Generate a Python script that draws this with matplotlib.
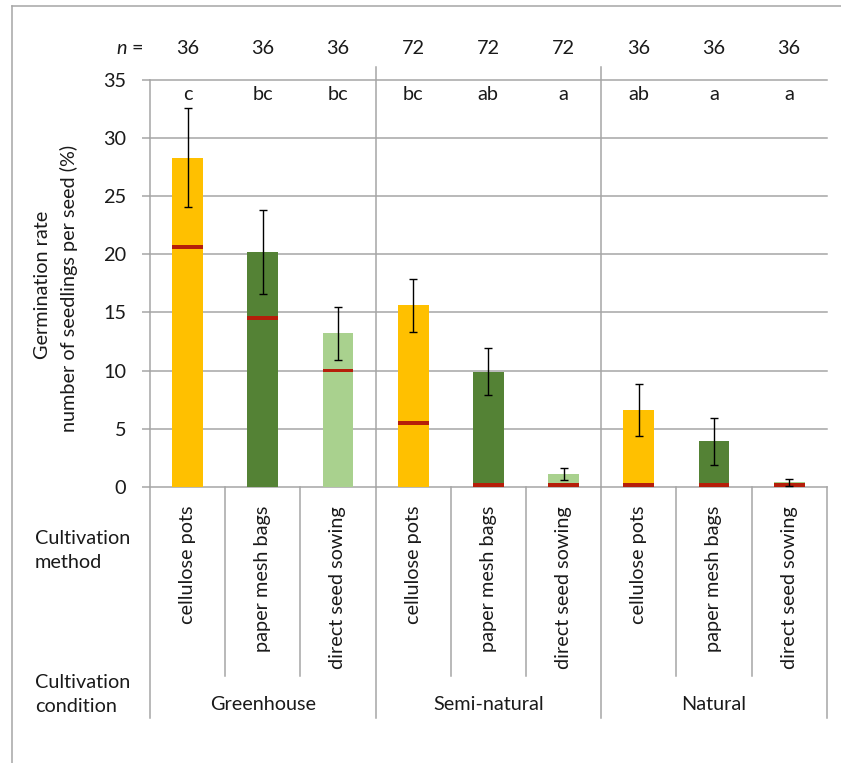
import matplotlib
matplotlib.use("Agg")
import matplotlib.pyplot as plt
from matplotlib.lines import Line2D
import matplotlib.transforms as mtransforms

plt.rcParams['font.family'] = ['Lato', 'DejaVu Sans']

# ---- data ----
conditions = ["Greenhouse", "Semi-natural", "Natural"]
methods = ["cellulose pots", "paper mesh bags", "direct seed sowing"]
n_values = [36, 36, 36, 72, 72, 72, 36, 36, 36]
letters = ["c", "bc", "bc", "bc", "ab", "a", "ab", "a", "a"]
means = [28.3, 20.2, 13.2, 15.6, 9.9, 1.1, 6.6, 3.9, 0.4]
errors = [4.25, 3.6, 2.3, 2.25, 2.0, 0.5, 2.2, 2.0, 0.3]
medians = [20.6, 14.5, 10.0, 5.5, 0.0, 0.0, 0.0, 0.0, 0.0]
method_colors = ["#FFC000", "#548235", "#A9D18E"]
median_color = "#B51E0A"
y_ticks = [0, 5, 10, 15, 20, 25, 30, 35]

W, H = 841, 763
GRID = "#A6A6A6"
TXT = "#1a1a1a"
FS = 14.3

fig = plt.figure(figsize=(W / 100, H / 100), dpi=100)


def fx(px):
    return px / W


def fy(py):
    return 1 - py / H


ax = fig.add_axes([fx(150), fy(486.7), (826.7 - 150) / W, (486.7 - 80) / H])
ncat = len(means)
xs = [i + 0.5 for i in range(ncat)]
colors = [method_colors[i % 3] for i in range(ncat)]
bw = 0.41

ax.bar(xs, means, width=bw, color=colors, zorder=2)
# median marks
med_h = 0.32
ax.bar(xs, [med_h] * ncat, bottom=[max(m - med_h / 2, 0) for m in medians],
       width=bw, color=median_color, zorder=3)
ax.errorbar(xs, means, yerr=errors, fmt='none', ecolor='black', elinewidth=1.0,
            capsize=2.7, capthick=1.0, zorder=4)

ax.set_xlim(0, ncat)
ax.set_ylim(0, 35)
ax.set_yticks(y_ticks)
ax.set_xticks([])
for s in ax.spines.values():
    s.set_visible(False)
ax.yaxis.grid(True, color=GRID, lw=1.1)
for gl in ax.get_ygridlines():
    gl.set_clip_on(False)
ax.set_axisbelow(True)
ax.tick_params(axis='y', length=5.8, width=1.1, color=GRID, pad=11.5,
               labelsize=FS, labelcolor=TXT)

bt = mtransforms.blended_transform_factory(ax.transData, fig.transFigure)


def vline(x, y0, y1):
    fig.add_artist(Line2D([x, x], [fy(y0), fy(y1)], transform=bt,
                          color=GRID, lw=1.1, zorder=1))


# left axis line running down through the table
vline(0, 80, 718)
# group separators inside plot
for g in (3, 6):
    vline(g, 67, 487)
# table separators below the axis
for i in range(1, ncat):
    if i % 3 == 0:
        vline(i, 487, 718)
    else:
        vline(i, 487, 676)
vline(ncat, 487, 718)

# outer frame
fig.add_artist(Line2D([fx(11.7), fx(11.7)], [fy(5.7), 0], transform=fig.transFigure,
                      color=GRID, lw=1.1))
fig.add_artist(Line2D([fx(11.7), 1], [fy(5.7), fy(5.7)], transform=fig.transFigure,
                      color=GRID, lw=1.1))

# n row and significance letters
fig.text(fx(143), fy(48), "=", ha='right', va='center', fontsize=FS, color=TXT)
fig.text(fx(127), fy(48), "n", ha='right', va='center', fontsize=FS, color=TXT,
         fontstyle='italic')
for x, n, l in zip(xs, n_values, letters):
    ax.text(x, fy(48), str(n), transform=bt, ha='center', va='center', fontsize=FS,
            color=TXT)
    ax.text(x, fy(94), l, transform=bt, ha='center', va='center', fontsize=FS, color=TXT)

# method labels
for x, i in zip(xs, range(ncat)):
    ax.text(x, fy(506), methods[i % 3], transform=bt, rotation=90, ha='center', va='top',
            fontsize=FS, color=TXT)

# condition labels
for g, name in enumerate(conditions):
    ax.text(3 * g + 1.5, fy(705), name, transform=bt, ha='center', va='center',
            fontsize=FS, color=TXT)

fig.text(fx(35), fy(538), "Cultivation", ha='left', va='center', fontsize=FS, color=TXT)
fig.text(fx(35), fy(563), "method", ha='left', va='center', fontsize=FS, color=TXT)
fig.text(fx(35), fy(682), "Cultivation", ha='left', va='center', fontsize=FS, color=TXT)
fig.text(fx(35), fy(707), "condition", ha='left', va='center', fontsize=FS, color=TXT)

# y-axis title
fig.text(fx(43), fy(285), "Germination rate", rotation=90, ha='center', va='center',
         fontsize=FS, color=TXT)
fig.text(fx(69), fy(288), "number of seedlings per seed (%)", rotation=90, ha='center',
         va='center', fontsize=FS, color=TXT)

fig.savefig("out.png", dpi=100, facecolor='white')
